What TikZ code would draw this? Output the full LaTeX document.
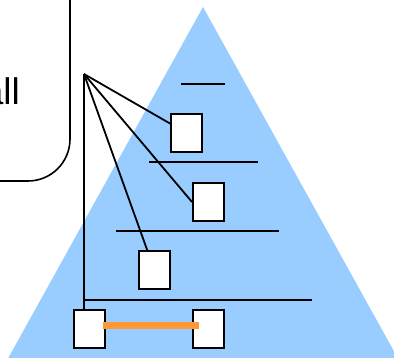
\documentclass[tikz,border=0pt]{standalone}
\usepackage{fontspec}
\setmainfont{Liberation Sans}
\usetikzlibrary{calc}
\definecolor{pyrblue}{RGB}{153,204,255}
\definecolor{linkorange}{RGB}{255,153,51}
\begin{document}
\begin{tikzpicture}[x=1pt,y=-1pt,
  hostbox/.style={draw=black,fill=white,line width=2pt,minimum width=31pt,minimum height=38pt,inner sep=0pt},
  fanline/.style={draw=black,line width=1.8pt},
  levelline/.style={draw=black,line width=1.8pt}]
\useasboundingbox (0,0) rectangle (394,358);
\begin{scope}
\clip (0,0) rectangle (394,358);
% pyramid
\fill[pyrblue] (203,7) -- (421,400) -- (-15,400) -- cycle;
% rounded box
\draw[line width=1.6pt,rounded corners=42pt] (70,-20) -- (70,181) -- (-20,181);
\node[anchor=base east,font=\fontsize{37}{40}\selectfont,inner sep=0pt] (t) at (20,105) {all};
% level lines
\draw[levelline] (181,84) -- (225,84);
\draw[levelline] (149,162) -- (258,162);
\draw[levelline] (116,231) -- (279,231);
\draw[levelline] (84,300) -- (312,300);
% boxes
\node[hostbox] (b1) at (186.5,133) {};
\node[hostbox] (b2) at (208.5,202) {};
\node[hostbox] (b3) at (154.5,270.5) {};
\node[hostbox] (b4) at (89.5,329.5) {};
\node[hostbox] (b5) at (208.5,329.5) {};
\coordinate (f) at (84,74);
% fan
\draw[fanline] (f) -- (b1);
\draw[fanline] (f) -- (b2.west);
\draw[fanline] (f) -- (b3);
\draw[fanline] (f) -- (f |- b4.north);
% link
\draw[linkorange,line width=7pt] ($(b4.east)+(-3,-4)$) -- ($(b5.west)+(7,-4)$);
\end{scope}
\end{tikzpicture}
\end{document}
